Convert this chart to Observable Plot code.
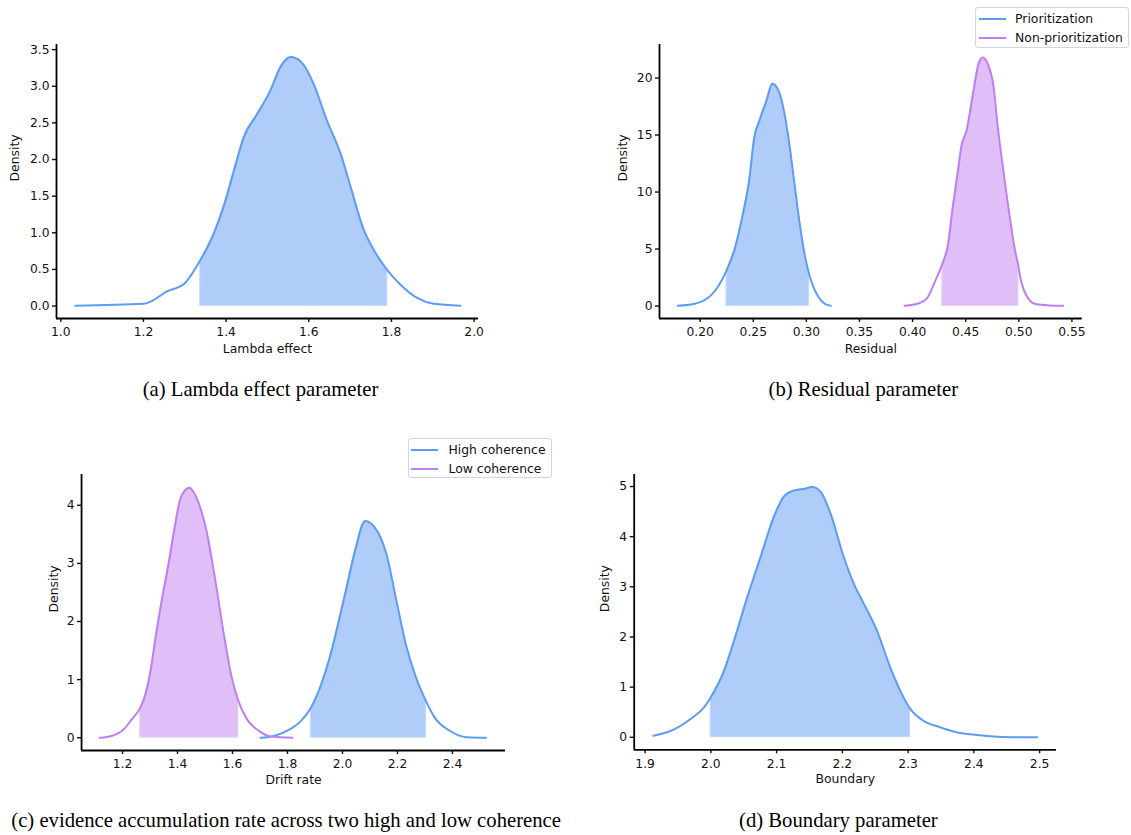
<!DOCTYPE html>
<html><head><meta charset="utf-8">
<script src="https://cdn.jsdelivr.net/npm/d3@7"></script>
<script src="https://cdn.jsdelivr.net/npm/@observablehq/plot@0.6"></script>
<style>
body{margin:0;background:#fff;}
#root{position:relative;width:1131px;height:835px;overflow:hidden;background:#fff;}
.panel{position:absolute;}
.cap{position:absolute;font-family:"Liberation Serif","Times New Roman",serif;font-size:20.7px;line-height:24px;text-align:center;color:#000;white-space:nowrap;width:700px;}
.legend{position:absolute;border:1px solid #d6d6d6;border-radius:3px;background:#fff;font-family:"DejaVu Sans",sans-serif;font-size:12.4px;color:#111;box-sizing:border-box;}
.legend .row{position:absolute;left:0;height:19px;line-height:19px;white-space:nowrap;}
.legend .sw{position:absolute;width:27px;height:2.6px;top:8.5px;}
.legend .lb{position:absolute;top:0;}
</style>
</head><body>
<div id="root"></div>
<script>
// ---------- data ----------
const BLUE_LINE = "#5c9cf2", BLUE_FILL = "#afcdf8", BLUE_EDGE = "#c3d9fa";
const PURPLE_LINE = "#c07ef3", PURPLE_FILL = "#e0bff8", PURPLE_EDGE = "#e9d1fa";

// (a) Lambda effect
const lambdaX = [1.035,1.2008,1.217,1.257,1.298,1.338,1.370,1.394,1.419,1.443,1.475,1.507,1.531,1.556,1.580,1.612,1.644,1.677,1.701,1.733,1.757,1.790,1.822,1.862,1.902,1.967];
const lambdaY = [0.005,0.03,0.06,0.2,0.30,0.63,0.99,1.36,1.85,2.31,2.62,2.94,3.26,3.40,3.34,3.03,2.53,2.08,1.63,1.04,0.77,0.49,0.29,0.11,0.03,0.005];
const lambdaHDI = [1.338, 1.790];

// (b) Residual
const residPrioX = [0.1789,0.194,0.2104,0.225,0.2331,0.2396,0.2461,0.251,0.2559,0.2624,0.2679,0.2738,0.2787,0.2835,0.2884,0.2933,0.2982,0.3024,0.3112,0.3177,0.3229];
const residPrioY = [0.03,0.18,0.96,3.15,5.2,7.8,11.0,14.8,16.3,18.0,19.5,18.9,17.2,14.5,11.0,7.5,4.6,2.86,0.82,0.18,0.03];
const residPrioHDI = [0.225, 0.3024];
const residNonX = [0.3924,0.4054,0.4135,0.4217,0.4282,0.433,0.4379,0.4428,0.446,0.4509,0.4574,0.4623,0.4662,0.4704,0.4763,0.4802,0.485,0.4915,0.4964,0.4997,0.5013,0.5078,0.5159,0.5289,0.5419];
const residNonY = [0.03,0.23,0.67,2.28,3.74,5.2,8.7,11.9,14.0,15.4,18.9,21.3,21.8,21.3,19.2,15.7,12.2,7.8,4.9,3.45,2.57,0.82,0.18,0.06,0.03];
const residNonHDI = [0.4282, 0.4997];

// (c) Drift rate
const driftLowX = [1.1176,1.1607,1.2037,1.2344,1.2652,1.2836,1.302,1.3205,1.345,1.3697,1.388,1.4127,1.4434,1.468,1.505,1.5357,1.5664,1.5971,1.6217,1.6525,1.7017,1.7385,1.818];
const driftLowY = [0,0.03,0.14,0.32,0.52,0.75,1.15,1.73,2.42,3.05,3.57,4.14,4.30,4.14,3.57,2.76,1.84,1.04,0.63,0.32,0.10,0.02,0];
const driftLowHDI = [1.2652, 1.6217];
const driftHighX = [1.7017,1.7508,1.80,1.8492,1.886,1.923,1.9537,1.9844,2.0152,2.0459,2.0828,2.132,2.1627,2.1935,2.2304,2.2673,2.304,2.3349,2.3902,2.4517,2.5218];
const driftHighY = [0,0.03,0.12,0.29,0.52,0.92,1.38,1.96,2.59,3.22,3.73,3.51,3.11,2.42,1.61,1.04,0.63,0.35,0.12,0.01,0];
const driftHighHDI = [1.886, 2.304];

// (d) Boundary
const boundX = [1.9126,1.9394,1.9697,1.9899,2.0,2.0202,2.0354,2.0556,2.0758,2.096,2.1111,2.1263,2.1414,2.154,2.1667,2.1818,2.202,2.2172,2.2323,2.2525,2.2727,2.2929,2.303,2.3232,2.3485,2.3737,2.399,2.4242,2.4596,2.4965];
const boundY = [0.03,0.13,0.37,0.6,0.8,1.33,1.93,2.8,3.6,4.4,4.8,4.92,4.95,4.99,4.9,4.47,3.6,3.07,2.67,2.13,1.4,0.8,0.57,0.33,0.2,0.1,0.053,0.02,0.0,0];
const boundHDI = [2.0, 2.303];

// tick values
const lambdaXTicks = [1.0,1.2,1.4,1.6,1.8,2.0];
const lambdaYTicks = [0,0.5,1.0,1.5,2.0,2.5,3.0,3.5];
const residXTicks = [0.20,0.25,0.30,0.35,0.40,0.45,0.50,0.55];
const residYTicks = [0,5,10,15,20];
const driftXTicks = [1.2,1.4,1.6,1.8,2.0,2.2,2.4];
const driftYTicks = [0,1,2,3,4];
const boundXTicks = [1.9,2.0,2.1,2.2,2.3,2.4,2.5];
const boundYTicks = [0,1,2,3,4,5];

const captions = [
  "(a) Lambda effect parameter",
  "(b) Residual parameter",
  "(c) evidence accumulation rate across two high and low coherence",
  "(d) Boundary parameter"
];

// ---------- drawing ----------
const root = document.getElementById("root");
const FONT = "DejaVu Sans";

function rowsOf(xs, ys) { return xs.map((x, i) => ({x, y: ys[i]})); }

function panel(o) {
  const marks = [];
  for (const s of o.series) {
    const rows = rowsOf(s.x, s.y);
    const fillRows = rows.filter(d => d.x >= s.hdi[0] - 1e-9 && d.x <= s.hdi[1] + 1e-9);
    marks.push(Plot.areaY(fillRows, {x: "x", y: "y", fill: s.fill, stroke: s.edge, strokeWidth: 1, curve: "monotone-x"}));
  }
  for (const s of o.series) {
    marks.push(Plot.line(rowsOf(s.x, s.y), {x: "x", y: "y", stroke: s.line, strokeWidth: 2, curve: "monotone-x"}));
  }
  marks.push(
    Plot.axisX(o.xTicks, {tickFormat: d3.format(o.xFmt), tickSize: 4, tickPadding: 5, label: null, strokeWidth: 1.4, fontSize: 12.3}),
    Plot.axisY(o.yTicks, {tickFormat: d3.format(o.yFmt), tickSize: 4, tickPadding: 3, label: null, strokeWidth: 1.4, fontSize: 12.3}),
    Plot.ruleX([o.xDomain[0]], {strokeWidth: 1.8, stroke: "#000"}),
    Plot.ruleY([o.yDomain[0]], {strokeWidth: 1.8, stroke: "#000"}),
    Plot.text([o.xLabel], {text: d => d, frameAnchor: "bottom", dy: o.xLabelDy, fontSize: 12.4, fill: "#111"}),
    Plot.text(["Density"], {text: d => d, frameAnchor: "left", dx: o.yLabelDx, rotate: -90, fontSize: 12.4, fill: "#111"})
  );
  const svg = Plot.plot({
    width: o.width, height: o.height,
    marginLeft: o.m[0], marginRight: o.m[1], marginTop: o.m[2], marginBottom: o.m[3],
    x: {domain: o.xDomain},
    y: {domain: o.yDomain},
    style: {fontFamily: FONT, fontSize: "12.3px", color: "#111", background: "transparent", overflow: "visible"},
    marks
  });
  svg.classList.add("panel");
  svg.style.left = o.left + "px";
  svg.style.top = o.top + "px";
  root.appendChild(svg);
}

panel({left: 0, top: 30, width: 500, height: 340, m: [56, 22, 14, 52],
  xDomain: [0.9896, 2.0106], yDomain: [-0.17, 3.57],
  xTicks: lambdaXTicks, yTicks: lambdaYTicks, xFmt: ".1f", yFmt: ".1f",
  xLabel: "Lambda effect", xLabelDy: 34, yLabelDx: -41,
  series: [{x: lambdaX, y: lambdaY, hdi: lambdaHDI, line: BLUE_LINE, fill: BLUE_FILL, edge: BLUE_EDGE}]});

panel({left: 590, top: 0, width: 541, height: 370, m: [69, 49.3, 44, 52],
  xDomain: [0.1617, 0.5597], yDomain: [-1.09, 22.94],
  xTicks: residXTicks, yTicks: residYTicks, xFmt: ".2f", yFmt: "d",
  xLabel: "Residual", xLabelDy: 34, yLabelDx: -36.2,
  series: [
    {x: residPrioX, y: residPrioY, hdi: residPrioHDI, line: BLUE_LINE, fill: BLUE_FILL, edge: BLUE_EDGE},
    {x: residNonX, y: residNonY, hdi: residNonHDI, line: PURPLE_LINE, fill: PURPLE_FILL, edge: PURPLE_EDGE}
  ]});

panel({left: 0, top: 430, width: 560, height: 370, m: [81.05, 55, 44, 50],
  xDomain: [1.051, 2.593], yDomain: [-0.22, 4.53],
  xTicks: driftXTicks, yTicks: driftYTicks, xFmt: ".1f", yFmt: "d",
  xLabel: "Drift rate", xLabelDy: 33, yLabelDx: -28,
  series: [
    {x: driftHighX, y: driftHighY, hdi: driftHighHDI, line: BLUE_LINE, fill: BLUE_FILL, edge: BLUE_EDGE},
    {x: driftLowX, y: driftLowY, hdi: driftLowHDI, line: PURPLE_LINE, fill: PURPLE_FILL, edge: PURPLE_EDGE}
  ]});

panel({left: 590, top: 430, width: 490, height: 370, m: [43.7, 24, 44, 50.7],
  xDomain: [1.8834, 2.5257], yDomain: [-0.25, 5.24],
  xTicks: boundXTicks, yTicks: boundYTicks, xFmt: ".1f", yFmt: "d",
  xLabel: "Boundary", xLabelDy: 33.4, yLabelDx: -28.7,
  series: [{x: boundX, y: boundY, hdi: boundHDI, line: BLUE_LINE, fill: BLUE_FILL, edge: BLUE_EDGE}]});

// legends
function legend(left, top, width, height, swLeft, txtLeft, entries) {
  const div = document.createElement("div");
  div.className = "legend";
  Object.assign(div.style, {left: left + "px", top: top + "px", width: width + "px", height: height + "px"});
  entries.forEach((e, i) => {
    const row = document.createElement("div");
    row.className = "row";
    row.style.top = (1 + i * 19) + "px";
    const sw = document.createElement("span");
    sw.className = "sw"; sw.style.left = swLeft + "px"; sw.style.background = e.color;
    const lb = document.createElement("span");
    lb.className = "lb"; lb.style.left = txtLeft + "px"; lb.textContent = e.label;
    row.appendChild(sw); row.appendChild(lb);
    div.appendChild(row);
  });
  root.appendChild(div);
}
legend(974.7, 7, 154.6, 41, 3.2, 39.4, [{label: "Prioritization", color: BLUE_LINE}, {label: "Non-prioritization", color: PURPLE_LINE}]);
legend(407.6, 438, 144.7, 40, 2.7, 39.9, [{label: "High coherence", color: BLUE_LINE}, {label: "Low coherence", color: PURPLE_LINE}]);

// captions
const capPos = [[260.5, 390.5], [863.3, 390.5], [286.1, 822], [838.4, 822]];
captions.forEach((t, i) => {
  const d = document.createElement("div");
  d.className = "cap";
  d.textContent = t;
  d.style.left = (capPos[i][0] - 350) + "px";
  d.style.top = (capPos[i][1] - 14) + "px";
  root.appendChild(d);
});
</script>
</body></html>
